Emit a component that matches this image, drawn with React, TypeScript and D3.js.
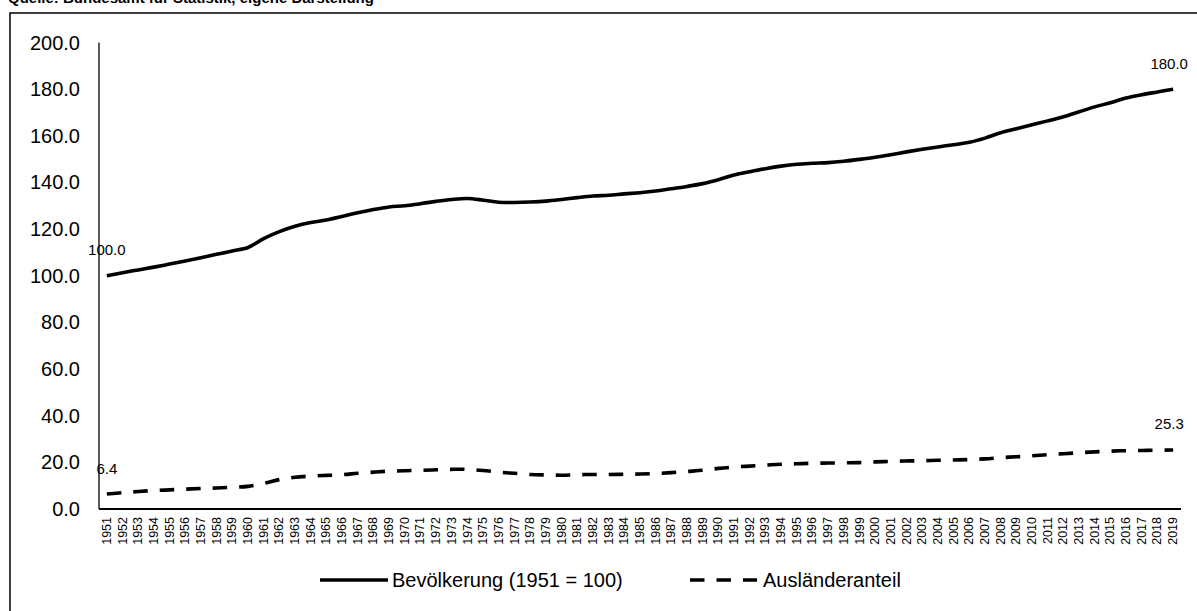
import React from "react";
import * as d3 from "d3";

const years: string[] = d3.range(1951, 2020).map((y) => String(y));

const population: number[] = [
  100.0, 101.3, 102.5, 103.7, 105.0, 106.3, 107.7, 109.2, 110.6, 112.1,
  115.9, 118.9, 121.2, 122.8, 123.9, 125.4, 127.0, 128.4, 129.5, 130.0,
  130.9, 131.9, 132.7, 133.1, 132.4, 131.5, 131.4, 131.6, 132.0, 132.7,
  133.5, 134.2, 134.5, 135.1, 135.6, 136.3, 137.3, 138.3, 139.5, 141.2,
  143.2, 144.6, 145.9, 147.0, 147.8, 148.2, 148.5, 149.1, 149.9, 150.8,
  151.9, 153.1, 154.2, 155.2, 156.2, 157.2, 159.0, 161.3, 163.0, 164.7,
  166.4, 168.2, 170.3, 172.4, 174.2, 176.2, 177.6, 178.8, 180.0,
];

const foreignShare: number[] = [
  6.4, 7.0, 7.5, 7.9, 8.2, 8.5, 8.8, 9.0, 9.3, 9.7,
  11.0, 12.6, 13.6, 14.1, 14.4, 14.7, 15.3, 15.8, 16.2, 16.4,
  16.6, 16.8, 17.0, 17.0, 16.5, 15.8, 15.3, 14.8, 14.6, 14.5,
  14.7, 14.8, 14.8, 14.9, 15.0, 15.2, 15.6, 16.1, 16.6, 17.4,
  18.0, 18.4, 18.8, 19.2, 19.4, 19.6, 19.7, 19.8, 19.9, 20.2,
  20.4, 20.6, 20.7, 20.9, 21.0, 21.2, 21.5, 22.0, 22.4, 22.8,
  23.3, 23.7, 24.1, 24.5, 24.8, 25.0, 25.1, 25.2, 25.3,
];

const yTicks: number[] = [0, 20, 40, 60, 80, 100, 120, 140, 160, 180, 200];

const seriesNames: string[] = ["Bevölkerung (1951 = 100)", "Ausländeranteil"];
const sourceText = "Quelle: Bundesamt für Statistik, eigene Darstellung";

const W = 1197;
const H = 611;
const FONT = "'Liberation Sans', Arial, sans-serif";

export default function App() {
  React.useEffect(() => {
    document.body.style.margin = "0";
    document.body.style.overflow = "hidden";
  }, []);

  const x = d3.scaleBand<string>().domain(years).range([99, 1181]).padding(0);
  const y = d3.scaleLinear().domain([0, 200]).range([509, 42.5]);
  const cx = (yr: string) => (x(yr) as number) + x.bandwidth() / 2;

  const line = d3
    .line<number>()
    .x((_, i) => cx(years[i]))
    .y((d) => y(d))
    .curve(d3.curveCatmullRom.alpha(0.5));

  const popPath = line(population) || "";
  const forPath = line(foreignShare) || "";

  const last = years.length - 1;
  const labels = [
    { v: population[0], yr: years[0] },
    { v: population[last], yr: years[last] },
    { v: foreignShare[0], yr: years[0] },
    { v: foreignShare[last], yr: years[last] },
  ];

  return (
    <svg
      width={W}
      height={H}
      style={{ position: "absolute", left: 0, top: 0, background: "#fff" }}
      fontFamily={FONT}
    >
      <rect x={0} y={0} width={W} height={H} fill="#fff" />
      <text x={8} y={3} fontSize={15} fontWeight="bold" fill="#000">
        {sourceText}
      </text>
      {/* outer frame */}
      <path d={`M10,${H + 5} L10,13 L${W + 5},13`} fill="none" stroke="#000" strokeWidth={1.5} />

      {/* y axis */}
      <line x1={99} x2={99} y1={y(200)} y2={y(0)} stroke="#000" strokeWidth={1.3} />
      {yTicks.map((t) => (
        <text
          key={t}
          x={80}
          y={y(t)}
          textAnchor="end"
          dominantBaseline="central"
          fontSize={20}
          fill="#000"
        >
          {d3.format(".1f")(t)}
        </text>
      ))}

      {/* x axis */}
      <line x1={99} x2={1181} y1={y(0)} y2={y(0)} stroke="#000" strokeWidth={2} />
      {years.map((yr) => (
        <text
          key={yr}
          transform={`translate(${cx(yr)},517) rotate(-90)`}
          textAnchor="end"
          dominantBaseline="central"
          fontSize={12.5}
          fill="#000"
        >
          {yr}
        </text>
      ))}

      {/* series */}
      <path d={popPath} fill="none" stroke="#000" strokeWidth={3.6} strokeLinejoin="round" />
      <path
        d={forPath}
        fill="none"
        stroke="#000"
        strokeWidth={3.6}
        strokeDasharray="14.5,12"
      />

      {/* data labels */}
      {labels.map((l, i) => (
        <text
          key={i}
          x={cx(l.yr) - (i % 2 === 1 ? 4 : 0)}
          y={y(l.v) - 26}
          textAnchor="middle"
          dominantBaseline="central"
          fontSize={15}
          fill="#000"
        >
          {d3.format(".1f")(l.v)}
        </text>
      ))}

      {/* legend */}
      <line x1={320} x2={388} y1={580} y2={580} stroke="#000" strokeWidth={3.6} />
      <text x={392} y={580} dominantBaseline="central" fontSize={20} fill="#000">
        {seriesNames[0]}
      </text>
      <line
        x1={690}
        x2={757}
        y1={580}
        y2={580}
        stroke="#000"
        strokeWidth={3.6}
        strokeDasharray="14.5,12"
      />
      <text x={763} y={580} dominantBaseline="central" fontSize={20} fill="#000">
        {seriesNames[1]}
      </text>
    </svg>
  );
}
